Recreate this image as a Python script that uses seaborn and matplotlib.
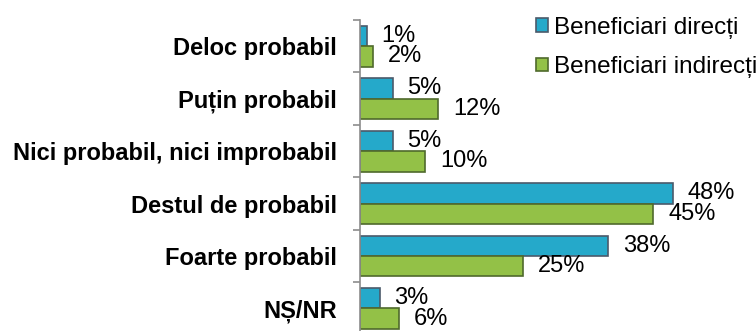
import matplotlib
matplotlib.use("Agg")
import matplotlib.pyplot as plt
from matplotlib.patches import Patch
import seaborn as sns
import pandas as pd

categories = ["Deloc probabil", "Puțin probabil", "Nici probabil, nici improbabil",
              "Destul de probabil", "Foarte probabil", "NȘ/NR"]
series_names = ["Beneficiari direcți", "Beneficiari indirecți"]
directi = [1, 5, 5, 48, 38, 3]
indirecti = [2, 12, 10, 45, 25, 6]

colors = ["#25A9CA", "#93C147"]
edges = ["#4B5A6B", "#4F6A2C"]

sns.set_theme(style="white")
plt.rcParams["font.family"] = ["Liberation Sans", "DejaVu Sans"]
plt.rcParams["text.color"] = "black"
plt.rcParams["ytick.labelcolor"] = "black"

df = pd.DataFrame({
    "cat": categories * 2,
    "serie": [series_names[0]] * len(categories) + [series_names[1]] * len(categories),
    "val": directi + indirecti,
})

fig = plt.figure(figsize=(7.56, 3.31), dpi=100)
ax = fig.add_axes([360 / 756, -3.7 / 331, 391 / 756, 314.7 / 331])

sns.barplot(data=df, y="cat", x="val", hue="serie", order=categories,
            hue_order=series_names, palette=colors, orient="h",
            width=0.78, dodge=True, ax=ax, legend=False, saturation=1)

for i, cont in enumerate(ax.containers):
    for bar, v in zip(cont, [directi, indirecti][i]):
        bar.set_edgecolor(edges[i])
        bar.set_linewidth(1.2)
        ax.annotate(f"{v}%", (bar.get_width(), bar.get_y() + bar.get_height() / 2),
                    xytext=(15, 0), textcoords="offset pixels",
                    ha="left", va="center", fontsize=17, color="black")

ax.set_xlim(0, 60)
ax.set_ylim(len(categories) - 0.5, -0.5)
ax.set_xlabel("")
ax.set_ylabel("")
ax.set_xticks([])
ax.set_yticks([i - 0.5 for i in range(len(categories) + 1)], minor=False)
ax.set_yticklabels([])
ax.set_yticks(range(len(categories)), minor=True)
ax.set_yticklabels(categories, minor=True, fontweight="bold", fontsize=17, color="black")
ax.tick_params(axis="y", which="major", length=5, width=1.2, color="#8C8C8C", left=True)
ax.tick_params(axis="y", which="minor", length=0, pad=16.5, left=True)
for s in ["top", "right", "bottom"]:
    ax.spines[s].set_visible(False)
ax.spines["left"].set_color("#8C8C8C")
ax.spines["left"].set_linewidth(1.2)

handles = [Patch(facecolor=colors[i], edgecolor=edges[i], linewidth=1.2, label=series_names[i])
           for i in range(2)]
fig.legend(handles=handles, loc="upper left", bbox_to_anchor=(531 / 756, 1 - 12 / 331),
           frameon=False, fontsize=17.5, handlelength=0.48, handleheight=0.48,
           handletextpad=0.25, labelspacing=0.72, borderpad=0.2, borderaxespad=0)

fig.savefig("out.png", dpi=100)
